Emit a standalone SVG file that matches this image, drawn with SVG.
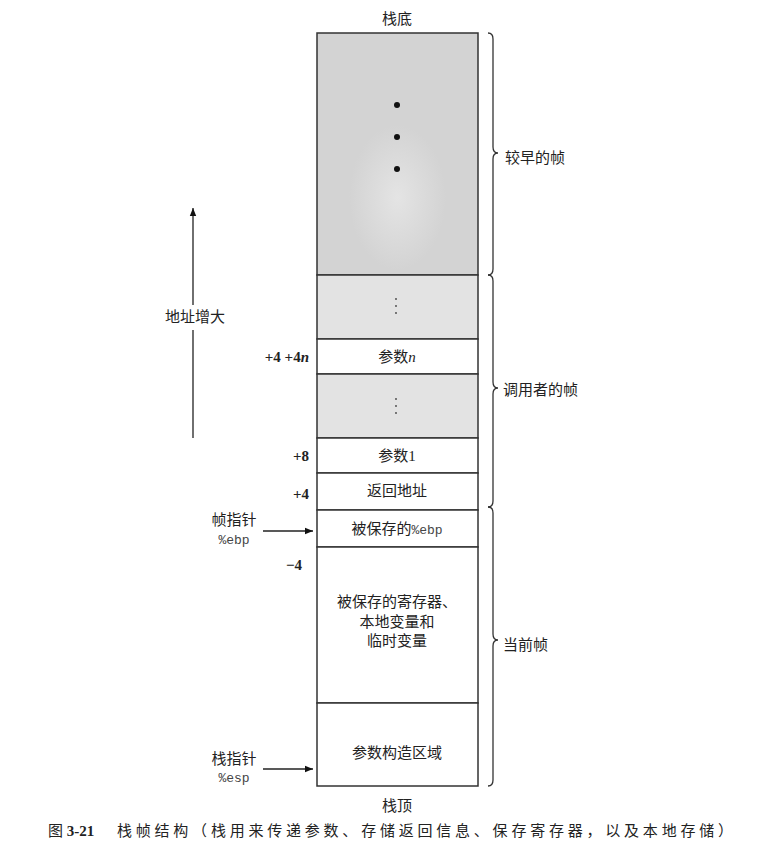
<svg xmlns="http://www.w3.org/2000/svg" width="757" height="846" viewBox="0 0 757 846">
<defs>
<style>
.cjk{font-family:"Liberation Serif","Noto Sans CJK SC",serif;font-size:15px;fill:#222}
.lbl{text-anchor:middle}
.off{font-family:"Liberation Serif",serif;font-weight:bold;font-size:15px;fill:#222;text-anchor:end}
.mono{font-family:"Liberation Mono",monospace;font-size:13px;fill:#444}
.cell{stroke:#333;stroke-width:1.5}
.brace{fill:none;stroke:#333;stroke-width:1.3}
.conn{stroke:#222;stroke-width:1.3;fill:none}
</style>
<marker id="ah" viewBox="0 0 10 10" refX="10" refY="5" markerWidth="10" markerHeight="8" markerUnits="userSpaceOnUse" orient="auto">
<path d="M0,1 L10,5 L0,9 Z" fill="#111"/>
</marker>
<radialGradient id="spot" cx="0.5" cy="0.68" r="0.3">
<stop offset="0" stop-color="#e4e4e4"/>
<stop offset="1" stop-color="#d3d3d3"/>
</radialGradient>
</defs>
<rect width="757" height="846" fill="#fff"/>

<g id="title-bottom"><text class="cjk lbl" x="397" y="24" font-size="14">栈底</text></g>

<g id="earlier-frame">
<rect class="cell" x="317" y="33" width="161" height="242" fill="url(#spot)"/>
<circle cx="397" cy="105" r="3" fill="#111"/>
<circle cx="397" cy="137" r="3" fill="#111"/>
<circle cx="397" cy="169" r="3" fill="#111"/>
</g>

<g id="caller-gap1">
<rect class="cell" x="317" y="275" width="161" height="64" fill="#e3e3e3"/>
<circle cx="396" cy="299" r="0.9" fill="#444"/><circle cx="396" cy="306" r="0.9" fill="#444"/><circle cx="396" cy="313" r="0.9" fill="#444"/>
</g>
<g id="arg-n">
<rect class="cell" x="317" y="339" width="161" height="35" fill="#fff"/>
<text class="cjk lbl" x="397" y="362">参数<tspan font-style="italic">n</tspan></text>
</g>
<g id="caller-gap2">
<rect class="cell" x="317" y="374" width="161" height="64" fill="#e3e3e3"/>
<circle cx="396" cy="399" r="0.9" fill="#444"/><circle cx="396" cy="406" r="0.9" fill="#444"/><circle cx="396" cy="413" r="0.9" fill="#444"/>
</g>
<g id="arg-1">
<rect class="cell" x="317" y="438" width="161" height="35" fill="#fff"/>
<text class="cjk lbl" x="397" y="461">参数1</text>
</g>
<g id="ret-addr">
<rect class="cell" x="317" y="473" width="161" height="37" fill="#fff"/>
<text class="cjk lbl" x="397" y="496">返回地址</text>
</g>
<g id="saved-ebp">
<rect class="cell" x="317" y="510" width="161" height="37" fill="#fff"/>
<text class="cjk lbl" x="397" y="534">被保存的<tspan class="mono">%ebp</tspan></text>
</g>
<g id="saved-regs">
<rect class="cell" x="317" y="547" width="161" height="156" fill="#fff"/>
<text class="cjk lbl" x="397" y="607">被保存的寄存器、</text>
<text class="cjk lbl" x="397" y="627">本地变量和</text>
<text class="cjk lbl" x="397" y="646">临时变量</text>
</g>
<g id="arg-build">
<rect class="cell" x="317" y="703" width="161" height="83" fill="#fff"/>
<text class="cjk lbl" x="397" y="758">参数构造区域</text>
</g>

<g id="title-top"><text class="cjk lbl" x="397" y="811" font-size="14">栈顶</text></g>

<g id="offsets">
<text class="off" x="309" y="362">+4 +4<tspan font-style="italic">n</tspan></text>
<text class="off" x="309" y="461">+8</text>
<text class="off" x="309" y="499">+4</text>
<text class="off" x="302" y="570">−4</text>
</g>

<g id="addr-label">
<text class="cjk lbl" x="195" y="322">地址增大</text>
</g>
<g id="fp-label">
<text class="cjk lbl" x="234" y="525">帧指针</text>
<text class="mono lbl" x="234" y="544">%ebp</text>
</g>
<g id="sp-label">
<text class="cjk lbl" x="234" y="764">栈指针</text>
<text class="mono lbl" x="234" y="782">%esp</text>
</g>

<g id="connectors">
<line class="conn" x1="193" y1="305" x2="193" y2="208" marker-end="url(#ah)"/>
<line class="conn" x1="193" y1="330" x2="193" y2="438"/>
<line class="conn" x1="263" y1="531" x2="313" y2="531" marker-end="url(#ah)"/>
<line class="conn" x1="263" y1="769" x2="313" y2="769" marker-end="url(#ah)"/>
<path class="brace" d="M488,33 Q493,33 493,39 L493,147 Q493,153 498,153 Q493,153 493,159 L493,269 Q493,275 488,275"/>
<path class="brace" d="M488,275 Q493,275 493,281 L493,382 Q493,388 498,388 Q493,388 493,394 L493,501 Q493,507 488,507"/>
<path class="brace" d="M488,507 Q493,507 493,513 L493,634 Q493,640 498,640 Q493,640 493,646 L493,780 Q493,786 488,786"/>
</g>

<g id="brace-labels">
<text class="cjk" x="505" y="163">较早的帧</text>
<text class="cjk" x="503" y="395">调用者的帧</text>
<text class="cjk" x="503" y="650">当前帧</text>
</g>

<g id="caption">
<text class="cjk" x="48" y="836" font-size="17">图 <tspan font-weight="bold">3-21</tspan></text>
<text class="cjk" x="117" y="836" font-size="17.5" textLength="616" lengthAdjust="spacing">栈帧结构（栈用来传递参数、存储返回信息、保存寄存器，以及本地存储）</text>
</g>
</svg>
